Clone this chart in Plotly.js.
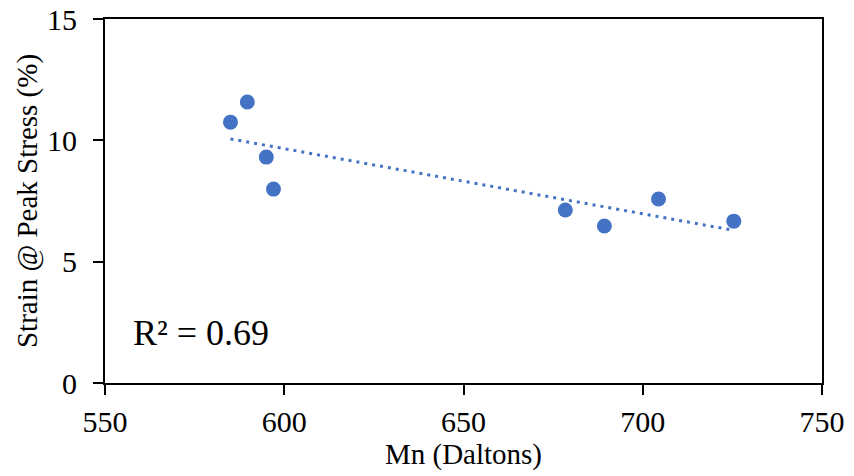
<!DOCTYPE html>
<html>
<head>
<meta charset="utf-8">
<script src="https://cdn.plot.ly/plotly-3.0.1.min.js"></script>
<style>html,body{margin:0;padding:0;background:#fff;}#chart{width:854px;height:476px;}</style>
</head>
<body>
<div id="chart"></div>
<script>
// Data
var mn = [585, 589.7, 595, 597, 678.4, 689.3, 704.4, 725.4];
var strain = [10.75, 11.58, 9.31, 7.99, 7.13, 6.47, 7.58, 6.67];
var xTicks = [550, 600, 650, 700, 750];
var yTicks = [0, 5, 10, 15];
var r2Label = 'R² = 0.69';

// Linear least-squares trendline computed from the data
var n = mn.length, mx = 0, my = 0;
for (var i = 0; i < n; i++) { mx += mn[i]; my += strain[i]; }
mx /= n; my /= n;
var sxy = 0, sxx = 0;
for (var i = 0; i < n; i++) { sxy += (mn[i]-mx)*(strain[i]-my); sxx += (mn[i]-mx)*(mn[i]-mx); }
var slope = sxy / sxx, intercept = my - slope * mx;
var xMin = Math.min.apply(null, mn), xMax = Math.max.apply(null, mn);
var trendX = [xMin, xMax];
var trendY = [intercept + slope * xMin, intercept + slope * xMax];

var blue = '#4472C4';
var font = 'Liberation Serif, Times New Roman, serif';

var traces = [
  {x: trendX, y: trendY, type: 'scatter', mode: 'lines',
   line: {color: blue, width: 3, dash: '3px,5px'}, hoverinfo: 'skip'},
  {x: mn, y: strain, type: 'scatter', mode: 'markers',
   marker: {color: blue, size: 15}}
];

var layout = {
  width: 854, height: 476,
  margin: {l: 105, r: 32, t: 19, b: 93},
  paper_bgcolor: '#fff', plot_bgcolor: '#fff',
  showlegend: false,
  font: {family: font, color: '#000'},
  xaxis: {
    range: [550, 750], tickvals: xTicks, ticktext: xTicks.map(String),
    showgrid: false, zeroline: false,
    showline: true, linecolor: '#000', linewidth: 2, mirror: true,
    ticks: 'outside', ticklen: 10, tickwidth: 2, tickcolor: '#000',
    ticklabelstandoff: 1,
    tickfont: {family: font, size: 30, color: '#000'},
    title: {text: 'Mn (Daltons)', font: {family: font, size: 29, color: '#000'}, standoff: 7},
    automargin: false
  },
  yaxis: {
    range: [0, 15], tickvals: yTicks, ticktext: yTicks.map(String),
    showgrid: false, zeroline: false,
    showline: true, linecolor: '#000', linewidth: 2, mirror: true,
    ticks: 'outside', ticklen: 10, tickwidth: 2, tickcolor: '#000',
    ticklabelstandoff: 10,
    tickfont: {family: font, size: 30, color: '#000'},
    title: {text: 'Strain @ Peak Stress (%)', font: {family: font, size: 29, color: '#000'}, standoff: 1},
    automargin: false
  },
  annotations: [{
    x: 557.2, y: 2.06, xref: 'x', yref: 'y', xanchor: 'left', yanchor: 'middle',
    text: r2Label, showarrow: false,
    font: {family: font, size: 36, color: '#000'}
  }]
};

Plotly.newPlot('chart', traces, layout, {displayModeBar: false, staticPlot: true});
</script>
</body>
</html>
